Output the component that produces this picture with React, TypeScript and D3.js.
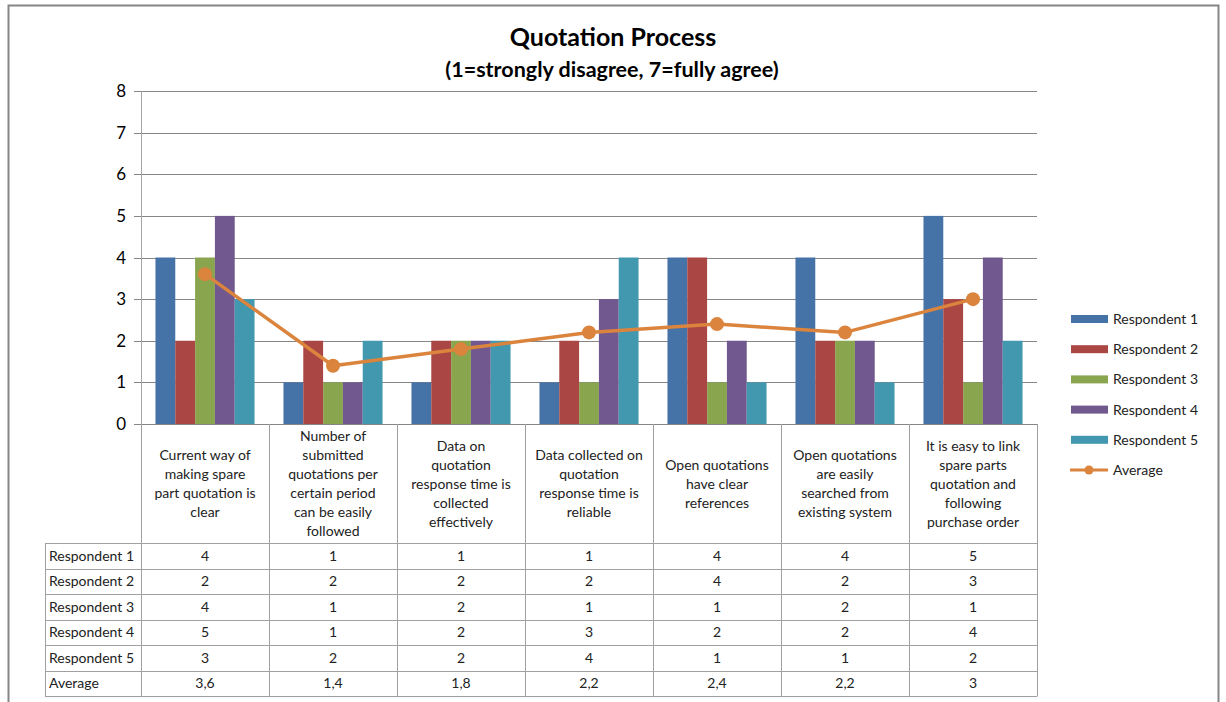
import { useEffect, useRef } from "react";
import * as d3 from "d3";

const categories: string[][] = [
  ["Current way of", "making spare", "part quotation is", "clear"],
  ["Number of", "submitted", "quotations per", "certain period", "can be easily", "followed"],
  ["Data on", "quotation", "response time is", "collected", "effectively"],
  ["Data collected on", "quotation", "response time is", "reliable"],
  ["Open quotations", "have clear", "references"],
  ["Open quotations", "are easily", "searched from", "existing system"],
  ["It is easy to link", "spare parts", "quotation and", "following", "purchase order"],
];
const seriesNames = ["Respondent 1", "Respondent 2", "Respondent 3", "Respondent 4", "Respondent 5"];
const respondent1 = [4, 1, 1, 1, 4, 4, 5];
const respondent2 = [2, 2, 2, 2, 4, 2, 3];
const respondent3 = [4, 1, 2, 1, 1, 2, 1];
const respondent4 = [5, 1, 2, 3, 2, 2, 4];
const respondent5 = [3, 2, 2, 4, 1, 1, 2];
const average = [3.6, 1.4, 1.8, 2.2, 2.4, 2.2, 3];
const yTicks = [0, 1, 2, 3, 4, 5, 6, 7, 8];
const colors = ["#4572A7", "#AA4643", "#89A54E", "#71588F", "#4198AF"];
const avgColor = "#DB843D";

const FONT = "Lato, 'Liberation Sans', sans-serif";

export default function App() {
  const ref = useRef<SVGSVGElement>(null);

  useEffect(() => {
    const svg = d3.select(ref.current);
    svg.selectAll("*").remove();
    const series = [respondent1, respondent2, respondent3, respondent4, respondent5];

    const left = 141, right = 1037, top = 91, zero = 424;
    const headerBottom = 543, rowH = 25.5, labelLeft = 45;
    const idx = categories.map((_, i) => i);

    const x = d3.scaleBand<number>().domain(idx).range([left, right]).padding(0);
    const xs = d3.scaleBand<number>().domain(seriesNames.map((_, i) => i)).range([0, x.bandwidth()])
      .paddingInner(0).paddingOuter(0.73);
    const y = d3.scaleLinear().domain([0, 8]).range([zero, top]);

    // outer frame
    svg.append("rect").attr("x", 8.5).attr("y", 5.5).attr("width", 1210).attr("height", 720)
      .attr("fill", "#fff").attr("stroke", "#868686").attr("stroke-width", 2);

    // title
    svg.append("text").attr("x", 613).attr("y", 46).attr("text-anchor", "middle")
      .attr("font-family", FONT).attr("font-weight", 700).attr("font-size", 25).attr("fill", "#000")
      .text("Quotation Process");
    svg.append("text").attr("x", 612).attr("y", 77).attr("text-anchor", "middle")
      .attr("font-family", FONT).attr("font-weight", 700).attr("font-size", 21.5).attr("fill", "#000")
      .text("(1=strongly disagree, 7=fully agree)");

    // grid + y ticks
    const g = svg.append("g");
    g.selectAll(".grid").data(yTicks).join("line")
      .attr("x1", left - 7).attr("x2", right)
      .attr("y1", d => Math.round(y(d)) + 0.5).attr("y2", d => Math.round(y(d)) + 0.5)
      .attr("stroke", "#868686").attr("stroke-width", 1);
    g.selectAll(".ylab").data(yTicks).join("text")
      .attr("x", 126).attr("y", d => y(d) + 6).attr("text-anchor", "end")
      .attr("font-family", FONT).attr("font-size", 17).attr("fill", "#000").text(d => d);
    g.append("line").attr("x1", left + 0.5).attr("x2", left + 0.5).attr("y1", top).attr("y2", zero)
      .attr("stroke", "#a6a6a6");

    // bars
    series.forEach((vals, s) => {
      g.append("g").selectAll("rect").data(vals).join("rect")
        .attr("x", (_, i) => x(i)! + xs(s)!)
        .attr("y", d => y(d))
        .attr("width", xs.bandwidth())
        .attr("height", d => zero - y(d))
        .attr("fill", colors[s]);
    });

    // average line
    const cx = (i: number) => x(i)! + x.bandwidth() / 2;
    const line = d3.line<number>().x((_, i) => cx(i)).y(d => y(d));
    g.append("path").attr("d", line(average)).attr("fill", "none")
      .attr("stroke", avgColor).attr("stroke-width", 3.5).attr("stroke-linejoin", "round");
    g.selectAll(".dot").data(average).join("circle")
      .attr("cx", (_, i) => cx(i)).attr("cy", d => y(d)).attr("r", 7).attr("fill", avgColor);

    // data table
    const tbl = svg.append("g");
    const bc = "#a0a0a0";
    const nRows = seriesNames.length + 1;
    const tableBottom = headerBottom + rowH * nRows;
    d3.range(categories.length + 1).forEach(i => {
      const xv = Math.round(left + i * x.bandwidth()) + 0.5;
      tbl.append("line").attr("x1", xv).attr("x2", xv).attr("y1", zero).attr("y2", tableBottom).attr("stroke", bc);
    });
    tbl.append("line").attr("x1", labelLeft + 0.5).attr("x2", labelLeft + 0.5)
      .attr("y1", headerBottom).attr("y2", tableBottom).attr("stroke", bc);
    d3.range(nRows + 1).forEach(r => {
      const yv = Math.round(headerBottom + r * rowH) + 0.5;
      tbl.append("line").attr("x1", labelLeft).attr("x2", right + 0.5).attr("y1", yv).attr("y2", yv).attr("stroke", bc);
    });

    // header labels
    categories.forEach((lines, i) => {
      const lh = 19;
      const start = (zero + headerBottom) / 2 - ((lines.length - 1) * lh) / 2;
      const t = tbl.append("text").attr("text-anchor", "middle").attr("font-family", FONT)
        .attr("font-size", 14).attr("fill", "#222");
      lines.forEach((ln, k) => {
        t.append("tspan").attr("x", cx(i)).attr("y", start + k * lh + 5).text(ln);
      });
    });

    const rows = [...series, average];
    const rowNames = [...seriesNames, "Average"];
    rows.forEach((vals, r) => {
      const yc = headerBottom + r * rowH + rowH / 2 + 5;
      tbl.append("text").attr("x", 49).attr("y", yc).attr("font-family", FONT).attr("font-size", 14)
        .attr("fill", "#222").text(rowNames[r]);
      tbl.selectAll(null).data(vals).join("text")
        .attr("x", (_, i) => cx(i)).attr("y", yc).attr("text-anchor", "middle")
        .attr("font-family", FONT).attr("font-size", 14).attr("fill", "#222")
        .text(d => String(d).replace(".", ","));
    });

    // legend
    const lg = svg.append("g");
    const ly = (i: number) => 319 + i * 30.2;
    seriesNames.forEach((name, i) => {
      lg.append("rect").attr("x", 1071).attr("y", ly(i) - 4).attr("width", 37).attr("height", 8).attr("fill", colors[i]);
      lg.append("text").attr("x", 1113).attr("y", ly(i) + 5).attr("font-family", FONT).attr("font-size", 14)
        .attr("fill", "#222").text(name);
    });
    const ai = seriesNames.length;
    lg.append("line").attr("x1", 1070).attr("x2", 1108).attr("y1", ly(ai)).attr("y2", ly(ai))
      .attr("stroke", avgColor).attr("stroke-width", 3);
    lg.append("circle").attr("cx", 1089).attr("cy", ly(ai)).attr("r", 4.5).attr("fill", avgColor);
    lg.append("text").attr("x", 1113).attr("y", ly(ai) + 5).attr("font-family", FONT).attr("font-size", 14)
      .attr("fill", "#222").text("Average");
  }, []);

  return (
    <svg ref={ref} width={1226} height={702}
      style={{ position: "absolute", left: 0, top: 0, background: "#fff" }} />
  );
}
